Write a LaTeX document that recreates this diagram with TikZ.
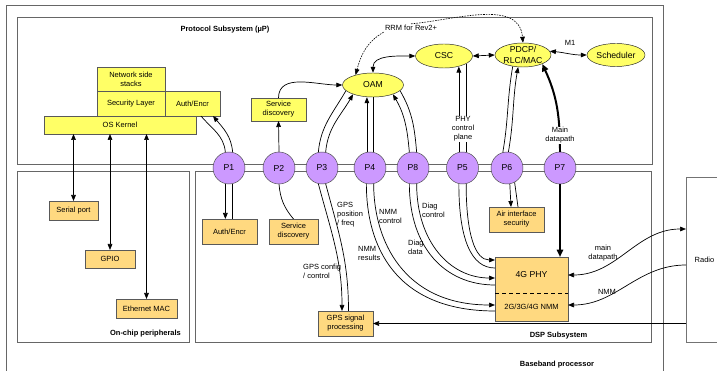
\documentclass[tikz,border=0pt]{standalone}
\usepackage{fontspec}
\setmainfont{Liberation Sans}
\usetikzlibrary{arrows.meta,positioning,shapes.geometric,calc}

\definecolor{boxyellow}{HTML}{FFFF66}
\definecolor{boxorange}{HTML}{FFD980}
\definecolor{portpurple}{HTML}{CC99FF}

\tikzset{
    frame/.style={draw=black!60, line width=0.7pt},
    frametitle/.style={font=\bfseries\fontsize{6.4}{7.6}\selectfont},
    txtsmall/.style={font=\fontsize{6.4}{7.7}\selectfont},
    txtbig/.style={font=\fontsize{7.4}{9}\selectfont},
    ybox/.style={rectangle, draw=black!65, fill=boxyellow, txtsmall, align=center, inner sep=1pt, outer sep=0pt},
    obox/.style={rectangle, draw=black!65, fill=boxorange, txtsmall, align=center, inner sep=1pt, outer sep=0pt},
    port/.style={circle, draw=black!70, fill=portpurple, minimum size=9.6mm, inner sep=0pt, txtbig},
    blob/.style={ellipse, draw=black!85, fill=boxyellow, inner sep=0pt, txtbig, align=center},
    link/.style={line width=0.6pt},
    arr/.style={link, -{Triangle[length=1.8mm,width=1.4mm]}},
    dbl/.style={link, {Triangle[length=1.8mm,width=1.4mm]}-{Triangle[length=1.8mm,width=1.4mm]}},
    dsh/.style={arr, line width=0.5pt, dash pattern=on 1.4pt off 0.9pt},
    thk/.style={line width=1.7pt, -{Triangle[length=2.2mm,width=1.9mm]}},
    lbl/.style={txtsmall, align=center, fill=white, inner sep=0.6pt},
    note/.style={txtsmall, align=left, inner sep=0pt},
}

\begin{document}
\begin{tikzpicture}[x=0.3mm, y=0.3mm]
    \fill[white] (0,0) rectangle (717,-371);
    \useasboundingbox (0,0) rectangle (717,-371);

    % frames
    \draw[frame] (6,-371) -- (6,-5) -- (663,-5) -- (663,-371);
    \draw[frame] (17,-17) rectangle (652,-164);
    \draw[frame] (17,-171) rectangle (189,-342);
    \draw[frame] (195,-171) rectangle (651,-342);
    \node[frametitle] (protot) at (225,-30) {Protocol Subsystem (µP)};
    \node[frametitle] (chipt) at (145.5,-334) {On-chip peripherals};
    \node[frametitle] (dspt) at (558.5,-336) {DSP Subsystem};
    \node[frametitle] (bbt) at (557,-365) {Baseband processor};
    \node[draw=black!55, fill=white, minimum width=11.1mm, minimum height=49.5mm,
        txtsmall, outer sep=0pt] (radio) at (704.5,-259.5) {Radio};

    % protocol subsystem
    \node[ybox, minimum width=20.4mm, minimum height=7.2mm] (net) at (131,-79) {Network side\\stacks};
    \node[ybox, minimum width=20.4mm, minimum height=7.5mm, below=0pt of net] (sec) {Security Layer};
    \node[ybox, minimum width=16.5mm, minimum height=7.5mm, right=0pt of sec] (auth) {Auth/Encr};
    \node[ybox, minimum width=45.6mm, minimum height=5.4mm] (kern) at (120,-125) {OS Kernel};
    \node[ybox, minimum width=16.5mm, minimum height=6.9mm] (sd) at (278.5,-109.5) {Service\\discovery};

    \node[blob, minimum width=18.3mm, minimum height=7.2mm] (oam) at (373,-85) {OAM};
    \node[blob, minimum width=17.1mm, minimum height=7.2mm] (csc) at (444,-56) {CSC};
    \node[blob, minimum width=16.8mm, minimum height=7.2mm, inner ysep=-1.5pt] (pdcp) at (523,-55) {PDCP/\\RLC/MAC};
    \node[blob, minimum width=17.4mm, minimum height=6.9mm] (sched) at (616,-55) {Scheduler};

    % on-chip peripherals
    \node[obox, minimum width=14.7mm, minimum height=5.7mm] (serial) at (73.5,-210.5) {Serial port};
    \node[obox, minimum width=15mm, minimum height=5.4mm] (gpio) at (110,-259) {GPIO};
    \node[obox, minimum width=18.3mm, minimum height=5.7mm] (eth) at (146.5,-308.5) {Ethernet MAC};

    % dsp subsystem
    \node[obox, minimum width=16.5mm, minimum height=7.5mm] (authd) at (229.5,-231.5) {Auth/Encr};
    \node[obox, minimum width=14.7mm, minimum height=7.5mm] (sdd) at (293.5,-231.5) {Service\\discovery};
    \node[obox, minimum width=16.5mm, minimum height=7.5mm] (gps) at (345.5,-323.5) {GPS signal\\processing};
    \node[obox, minimum width=16.5mm, minimum height=7.5mm] (air) at (516.5,-219.5) {Air interface\\security};
    \node[obox, draw=none, minimum width=21.9mm, minimum height=10.8mm, txtbig] (phyu) at (531.5,-275) {4G PHY};
    \node[obox, draw=none, minimum width=21.9mm, minimum height=8.4mm, below=0pt of phyu] (nmmb) {2G/3G/4G NMM};
    \draw[draw=black!65] (phyu.north west) rectangle (nmmb.south east);
    \draw[dashed] (phyu.south west) -- (phyu.south east);

    % ports
    \foreach \num/\x in {1/229, 2/279, 3/322, 4/370, 8/413, 5/462.5, 6/507, 7/560}
        \node[port] (p\num) at (\x,-168) {P\num};

    % links on the protocol side
    \foreach \dev in {serial, gpio, eth}
        \draw[dbl] (\dev.north |- kern.south) -- (\dev.north);

    \draw[link] (p1.103) to[out=95, in=-50] ([xshift=-5.7mm]auth.south east);
    \draw[arr] (p1.77) to[out=95, in=-50] ([xshift=-2.1mm]auth.south east);
    \draw[arr] (p2.north) -- (sd.south);
    \draw[arr] (sd.north) to[out=90, in=180] (oam.west);
    \draw[link] (p3.103) to[out=85, in=240] (oam.192);
    \draw[arr] (p3.77) to[out=85, in=240] (oam.205);
    \draw[arr] (p4.101) -- (p4.101 |- oam.south);
    \draw[link] (p4.79) -- (p4.79 |- oam.south);
    \draw[arr] (p8.103) to[out=95, in=-60] (oam.-25);
    \draw[link] (p8.77) to[out=95, in=-60] (oam.-12);
    \draw[arr, shorten >=-0.5mm] (p5.103) -- (p5.103 |- csc.south);
    \draw[link, shorten >=-1.3mm] (p5.77) -- (p5.77 |- csc.south);
    \draw[link] (p6.105) to[out=80, in=260] (pdcp.228);
    \draw[arr] (p6.85) to[out=80, in=260] (pdcp.248);
    \draw[thk] (p7.north) to[out=90, in=-65] (pdcp.-25);

    \draw[dbl] (oam.north) to[out=90, in=180] (csc.west);
    \draw[dbl] (csc.east) -- (pdcp.west);
    \draw[dbl] (pdcp.8) to[out=-5, in=180] (sched.west);
    \node[txtsmall] (m1) at (570,-43) {M1};

    \node[txtsmall, inner sep=1pt] (rrm) at (411,-28) {RRM for Rev2+};
    \draw[dsh] (rrm.south west) to[out=210, in=75] (oam.150);
    \draw[dsh] (rrm.north) to[out=5, in=95] (pdcp.north);

    \node[lbl] (phyctl) at (463,-129) {PHY\\control\\plane};
    \node[lbl] (maindp) at (560,-135.5) {Main\\datapath};

    % links on the dsp side
    \draw[arr] (p1.257) -- (p1.257 |- authd.north);
    \draw[link] (p1.283) -- (p1.283 |- authd.north);
    \draw[link] (p2.south) to[out=-85, in=130] (sdd.north);
    \draw[arr] (p3.257) to[out=-75, in=90] ([xshift=-1.05mm]gps.north);
    \draw[link] (p3.283) to[out=-75, in=90] ([xshift=0.9mm]gps.north);
    \draw[link] (p4.257) .. controls +(0,-62) and +(-100,0) .. ([yshift=-1.2mm]nmmb.west);
    \draw[arr] (p4.283) .. controls +(0,-56) and +(-92,0) .. ([yshift=0.6mm]nmmb.west);
    \draw[link] (p8.257) .. controls +(0,-64) and +(-50,0) .. ([yshift=-3mm]phyu.west);
    \draw[arr] (p8.283) .. controls +(0,-58) and +(-45,0) .. ([yshift=-0.9mm]phyu.west);
    \draw[link] (p5.257) .. controls +(0,-55) and +(-24,0) .. ([yshift=2.1mm]phyu.west);
    \draw[arr] (p5.283) .. controls +(0,-50) and +(-20,0) .. ([yshift=4.5mm]phyu.west);
    \draw[arr] (p6.280) -- ([xshift=-1.65mm]air.north);
    \draw[link] (p6.298) -- ([xshift=0.45mm]air.north);
    \draw[thk] (p7.south) -- (p7.south |- phyu.north);

    \draw[dbl] (phyu.east) to[out=0, in=180] ([yshift=9.15mm]radio.west);
    \draw[arr] ([yshift=-1.65mm]radio.west) to[out=180, in=0] ([yshift=0.6mm]nmmb.east);
    \draw[arr] (radio.west |- gps.east) -- (gps.east);

    \node[note, anchor=west] (gpspos) at (337,-215) {GPS\\position\\/ freq};
    \node[note, anchor=west] (gpscfg) at (303,-271.5) {GPS config\\/ control};
    \node[note, anchor=west] (nmmctl) at (379,-216.5) {NMM\\control};
    \node[note, anchor=west] (nmmres) at (358,-253.5) {NMM\\results};
    \node[note, anchor=west] (diagctl) at (422,-210.5) {Diag\\control};
    \node[note, anchor=west] (diagdat) at (408,-247.5) {Diag\\data};
    \node[note, align=center] (radiodp) at (603,-253.5) {main\\datapath};
    \node[note] (radionmm) at (607,-292) {NMM};
\end{tikzpicture}
\end{document}
